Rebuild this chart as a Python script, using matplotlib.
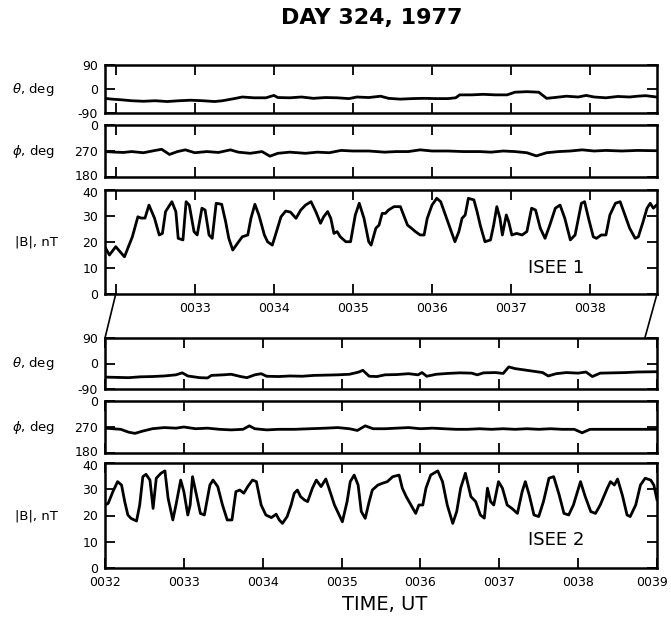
import numpy as np
import matplotlib.pyplot as plt
from matplotlib import font_manager
from matplotlib.patches import ConnectionPatch
from matplotlib.transforms import ScaledTranslation

# narrow face for the labels if it is there
names = {f.name for f in font_manager.fontManager.ttflist}
narrow = 'Liberation Sans Narrow' if 'Liberation Sans Narrow' in names else 'DejaVu Sans'
plt.rcParams['font.family'] = [narrow, 'DejaVu Sans']

# ISEE 1 field magnitude, nT (time in minutes after 0000 UT)
b1_t = [31.86, 31.92, 32.00, 32.11, 32.21, 32.28, 32.32, 32.37, 32.42, 32.49,
        32.55, 32.59, 32.63, 32.71, 32.76, 32.79, 32.85, 32.89, 32.93, 32.99,
        33.03, 33.09, 33.13, 33.18, 33.22, 33.27, 33.34, 33.39, 33.43, 33.48,
        33.54, 33.60, 33.67, 33.71, 33.76, 33.81, 33.88, 33.92, 33.98, 34.02,
        34.09, 34.15, 34.21, 34.28, 34.34, 34.40, 34.47, 34.53, 34.59, 34.63,
        34.68, 34.72, 34.76, 34.80, 34.84, 34.91, 34.97, 35.03, 35.08, 35.14,
        35.20, 35.23, 35.29, 35.33, 35.37, 35.41, 35.45, 35.52, 35.60, 35.64,
        35.69, 35.74, 35.79, 35.85, 35.90, 35.94, 36.00, 36.06, 36.11, 36.17,
        36.23, 36.29, 36.34, 36.38, 36.42, 36.46, 36.53, 36.57, 36.61, 36.67,
        36.74, 36.78, 36.82, 36.86, 36.89, 36.94, 36.97, 37.01, 37.07, 37.14,
        37.20, 37.26, 37.31, 37.37, 37.43, 37.49, 37.56, 37.62, 37.68, 37.75,
        37.81, 37.89, 37.93, 37.98, 38.04, 38.08, 38.14, 38.20, 38.25, 38.32,
        38.38, 38.44, 38.50, 38.57, 38.61, 38.67, 38.72, 38.76, 38.80, 38.84]
b1_v = [18.2, 15.0, 18.2, 14.3, 22.0, 29.7, 29.2, 29.2, 34.2, 29.2,
        22.7, 23.3, 31.7, 35.5, 31.7, 21.4, 20.8, 35.5, 34.2, 24.0,
        22.7, 33.0, 32.3, 22.7, 21.4, 34.9, 34.5, 27.8, 21.4, 16.9,
        19.5, 22.0, 22.7, 29.1, 34.5, 30.4, 22.7, 20.1, 18.8, 22.7,
        29.7, 31.9, 31.5, 29.1, 32.3, 34.2, 35.5, 31.7, 27.2, 29.7,
        31.7, 29.1, 23.3, 24.0, 22.0, 20.1, 20.1, 30.4, 34.9, 29.1,
        20.1, 18.8, 25.3, 26.5, 31.0, 31.0, 32.3, 33.6, 33.6, 30.4,
        26.5, 25.3, 24.0, 22.7, 22.7, 29.1, 34.2, 36.8, 35.5, 30.4,
        25.3, 20.1, 24.0, 29.1, 30.4, 36.8, 36.2, 31.7, 26.5, 20.1,
        20.8, 26.5, 33.6, 29.1, 22.7, 30.4, 27.8, 22.7, 23.3, 22.7,
        24.0, 33.0, 32.3, 25.3, 21.4, 26.5, 33.0, 34.2, 29.1, 20.8,
        22.7, 34.9, 35.5, 29.1, 22.0, 21.4, 22.7, 22.7, 30.4, 34.9,
        35.5, 30.4, 25.3, 21.4, 22.0, 27.8, 33.0, 34.9, 33.0, 34.2]

# ISEE 2 field magnitude, nT
b2_t = [32.00, 32.04, 32.10, 32.16, 32.21, 32.25, 32.29, 32.33, 32.40, 32.44,
        32.48, 32.52, 32.57, 32.61, 32.65, 32.71, 32.76, 32.80, 32.86, 32.90,
        32.96, 33.00, 33.05, 33.08, 33.11, 33.16, 33.21, 33.26, 33.33, 33.37,
        33.43, 33.49, 33.55, 33.61, 33.66, 33.71, 33.76, 33.81, 33.87, 33.92,
        33.98, 34.04, 34.11, 34.17, 34.21, 34.25, 34.31, 34.36, 34.40, 34.44,
        34.48, 34.53, 34.57, 34.63, 34.68, 34.74, 34.80, 34.84, 34.91, 34.97,
        35.01, 35.07, 35.11, 35.16, 35.21, 35.25, 35.30, 35.35, 35.39, 35.46,
        35.52, 35.58, 35.65, 35.73, 35.77, 35.82, 35.88, 35.94, 35.98, 36.03,
        36.07, 36.13, 36.22, 36.28, 36.34, 36.41, 36.46, 36.51, 36.57, 36.64,
        36.70, 36.76, 36.81, 36.85, 36.89, 36.93, 36.99, 37.04, 37.10, 37.16,
        37.23, 37.29, 37.33, 37.38, 37.44, 37.50, 37.56, 37.63, 37.69, 37.76,
        37.82, 37.88, 37.94, 38.03, 38.09, 38.16, 38.22, 38.28, 38.37, 38.41,
        38.46, 38.50, 38.56, 38.62, 38.66, 38.73, 38.79, 38.85, 38.92, 38.96,
        39.00]
b2_v = [24.0, 24.6, 29.1, 32.9, 31.6, 25.3, 20.2, 18.9, 17.9, 24.0,
        34.8, 35.7, 33.5, 22.7, 34.2, 36.1, 37.0, 26.6, 18.3, 24.0,
        33.5, 29.1, 20.2, 24.0, 34.8, 27.8, 20.8, 20.2, 31.6, 33.5,
        31.0, 24.0, 18.3, 18.3, 29.1, 29.7, 28.5, 31.0, 33.5, 32.9,
        24.0, 20.2, 19.2, 20.5, 18.3, 17.0, 19.6, 24.0, 28.5, 29.7,
        27.2, 25.9, 25.3, 30.4, 33.5, 31.0, 33.9, 30.4, 24.0, 20.2,
        17.6, 25.3, 32.9, 35.4, 31.6, 21.5, 18.9, 25.3, 29.7, 31.6,
        32.3, 32.9, 34.8, 35.4, 30.4, 27.2, 24.0, 20.8, 24.0, 24.0,
        30.4, 35.4, 37.0, 32.9, 24.0, 17.0, 21.5, 30.4, 36.1, 27.2,
        25.3, 20.2, 19.0, 30.4, 25.3, 24.0, 32.9, 30.4, 24.0, 22.7,
        20.8, 29.1, 32.9, 27.8, 20.2, 19.6, 25.3, 34.2, 34.8, 27.8,
        20.8, 20.2, 24.0, 32.9, 27.2, 21.5, 20.8, 24.0, 30.4, 32.9,
        31.6, 33.9, 27.8, 20.2, 19.6, 24.0, 31.6, 34.2, 33.5, 31.6,
        26.0]

# ISEE 1 field angles, deg
th1_t = [31.86, 31.95, 32.05, 32.20, 32.35, 32.50, 32.65, 32.80, 32.95, 33.10,
         33.25, 33.35, 33.50, 33.60, 33.75, 33.90, 34.00, 34.05, 34.20, 34.35,
         34.50, 34.65, 34.80, 34.95, 35.05, 35.20, 35.35, 35.45, 35.60, 35.75,
         35.90, 36.05, 36.20, 36.30, 36.35, 36.50, 36.65, 36.80, 36.95, 37.05,
         37.20, 37.35, 37.45, 37.55, 37.70, 37.85, 37.95, 38.05, 38.20, 38.35,
         38.50, 38.60, 38.70, 38.84]
th1_v = [-35, -38, -40, -44, -46, -44, -47, -44, -42, -44,
         -47, -44, -36, -30, -33, -33, -24, -32, -33, -30,
         -35, -32, -33, -36, -30, -32, -27, -35, -38, -36,
         -35, -36, -36, -33, -22, -22, -20, -22, -22, -12,
         -10, -12, -35, -32, -27, -30, -24, -30, -33, -28,
         -30, -27, -25, -30]

ph1_t = [31.86, 32.00, 32.10, 32.20, 32.35, 32.50, 32.58, 32.68, 32.78, 32.88,
         33.00, 33.15, 33.30, 33.45, 33.55, 33.70, 33.85, 33.95, 34.05, 34.20,
         34.40, 34.55, 34.70, 34.85, 35.00, 35.20, 35.40, 35.55, 35.70, 35.85,
         36.00, 36.20, 36.40, 36.60, 36.75, 36.90, 37.05, 37.20, 37.32, 37.45,
         37.60, 37.75, 37.90, 38.05, 38.20, 38.40, 38.60, 38.84]
ph1_v = [268, 266, 265, 268, 264, 272, 276, 258, 268, 274,
         264, 268, 265, 274, 266, 262, 268, 252, 262, 266,
         262, 266, 264, 272, 270, 270, 266, 268, 268, 274,
         270, 270, 268, 268, 266, 270, 268, 264, 253, 264,
         268, 270, 274, 270, 272, 270, 272, 271]

# ISEE 2 field angles, deg
th2_t = [32.00, 32.15, 32.30, 32.45, 32.60, 32.75, 32.90, 32.98, 33.05, 33.20,
         33.30, 33.35, 33.50, 33.60, 33.72, 33.80, 33.90, 33.98, 34.05, 34.20,
         34.35, 34.50, 34.65, 34.80, 34.95, 35.10, 35.22, 35.27, 35.35, 35.45,
         35.55, 35.70, 35.85, 35.97, 36.02, 36.08, 36.20, 36.35, 36.50, 36.65,
         36.72, 36.80, 36.95, 37.05, 37.12, 37.20, 37.30, 37.45, 37.55, 37.62,
         37.72, 37.85, 38.00, 38.10, 38.18, 38.28, 38.45, 38.60, 38.75, 39.00]
th2_v = [-48, -49, -50, -47, -46, -44, -40, -33, -44, -50,
         -51, -42, -40, -38, -46, -50, -40, -36, -45, -46,
         -44, -45, -42, -41, -40, -38, -30, -24, -45, -46,
         -40, -39, -36, -40, -32, -45, -38, -35, -33, -34,
         -40, -33, -32, -35, -12, -18, -22, -28, -32, -44,
         -36, -32, -34, -30, -46, -34, -33, -32, -30, -29]

ph2_t = [32.00, 32.10, 32.20, 32.30, 32.38, 32.48, 32.60, 32.75, 32.90, 33.00,
         33.15, 33.30, 33.45, 33.60, 33.75, 33.83, 33.90, 34.05, 34.20, 34.40,
         34.60, 34.80, 34.95, 35.10, 35.20, 35.30, 35.40, 35.55, 35.70, 35.85,
         36.00, 36.15, 36.30, 36.45, 36.60, 36.75, 36.90, 37.05, 37.20, 37.35,
         37.50, 37.65, 37.80, 37.95, 38.05, 38.15, 38.30, 38.50, 38.70, 39.00]
ph2_v = [266, 264, 262, 252, 248, 256, 264, 268, 266, 270,
         264, 266, 262, 260, 262, 274, 264, 260, 262, 262,
         264, 266, 268, 264, 258, 274, 264, 264, 266, 268,
         264, 266, 264, 262, 262, 264, 262, 264, 262, 264,
         262, 264, 262, 262, 250, 262, 262, 262, 262, 262]

minutes = [32, 33, 34, 35, 36, 37, 38, 39]
min_labels = ['0032', '0033', '0034', '0035', '0036', '0037', '0038', '0039']

xlim1 = (31.864, 38.846)
xlim2 = (32.0, 39.0)

fig = plt.figure(figsize=(6.71, 6.21), dpi=100)
L, W = 105 / 671, 552 / 671


def panel(top, bot):
    return fig.add_axes([L, 1 - bot / 621, W, (bot - top) / 621])


def nudge(label, dx, dy):
    # shift a tick label by a few pixels
    label.set_transform(label.get_transform() +
                        ScaledTranslation(dx / 100, dy / 100, fig.dpi_scale_trans))


def style(ax, xlim, show_labels, first_label=True):
    ax.set_xticks(minutes)
    if show_labels:
        labs = list(min_labels)
        if not first_label:
            labs[0] = ''
        ax.set_xticklabels(labs)
    else:
        ax.set_xticklabels([])
    # limits after the ticks, otherwise set_xticks widens the view
    ax.set_xlim(*xlim)
    ax.tick_params(direction='in', length=7, width=1.3, top=True, right=True,
                   labelsize=9, pad=5)
    ax.tick_params(axis='x', pad=6)
    for s in ax.spines.values():
        s.set_linewidth(1.8)


def theta_ax(ax):
    ax.set_yticks([-90, 0, 90])
    ax.set_yticklabels(['-90', '0', '90'])
    ax.set_ylim(-90, 90)


def phi_ax(ax):
    ax.set_yticks([180, 270, 360])
    ax.set_yticklabels(['180', '270', '0'])
    ax.set_ylim(180, 360)


def b_ax(ax):
    ax.set_yticks([0, 10, 20, 30, 40])
    ax.set_ylim(0, 40)


lw = 2.0

# ISEE 1
a1 = panel(65, 113)
a1.plot(th1_t, th1_v, color='black', lw=lw)
theta_ax(a1)
style(a1, xlim1, False)

a2 = panel(125, 177)
a2.plot(ph1_t, ph1_v, color='black', lw=lw)
phi_ax(a2)
style(a2, xlim1, False)

a3 = panel(190, 294)
a3.plot(b1_t, b1_v, color='black', lw=lw)
b_ax(a3)
style(a3, xlim1, True, first_label=False)
a3.text(37.57, 10, 'ISEE 1', fontsize=13, ha='center', va='center')

# ISEE 2
a4 = panel(338, 389)
a4.plot(th2_t, th2_v, color='black', lw=lw)
theta_ax(a4)
style(a4, xlim2, False)

a5 = panel(401, 453)
a5.plot(ph2_t, ph2_v, color='black', lw=lw)
phi_ax(a5)
style(a5, xlim2, False)

a6 = panel(463, 568)
a6.plot(b2_t, b2_v, color='black', lw=lw)
b_ax(a6)
style(a6, xlim2, True)
a6.text(37.72, 10.5, 'ISEE 2', fontsize=13, ha='center', va='center')

# keep the crowded labels apart and the last time label inside the frame
for ax_hi, ax_lo in [(a2, a3), (a5, a6)]:
    nudge(ax_hi.get_yticklabels()[0], 0, 2)
    nudge(ax_lo.get_yticklabels()[-1], 0, -2)
nudge(a6.get_xticklabels()[-1], -5, 0)

# time mapping between the two groups
for t in (32.0, xlim1[1]):
    con = ConnectionPatch(xyA=(t, 0), coordsA=a3.transData,
                          xyB=(t, 90), coordsB=a4.transData,
                          color='black', lw=1.2)
    fig.add_artist(con)

# axis labels
for ax, lab in [(a1, r'$\theta$, deg'), (a2, r'$\phi$, deg'), (a3, '|B|, nT'),
                (a4, r'$\theta$, deg'), (a5, r'$\phi$, deg'), (a6, '|B|, nT')]:
    pos = ax.get_position()
    x0 = 0.022 if 'B' in lab else 0.018
    fig.text(x0, pos.y0 + pos.height / 2, lab, ha='left', va='center',
             fontsize=9.5)

fig.text(0.554, 0.971, 'DAY 324, 1977', ha='center', va='center',
         fontsize=16, fontweight='bold', family='DejaVu Sans')
fig.text(0.574, 0.026, 'TIME, UT', ha='center', va='center', fontsize=14)

fig.savefig('out.png', dpi=100)
